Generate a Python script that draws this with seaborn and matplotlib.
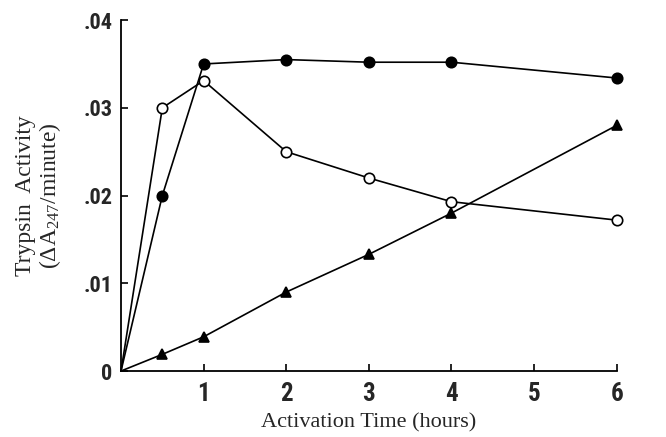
import numpy as np
import pandas as pd
import matplotlib
matplotlib.use("Agg")
import matplotlib.pyplot as plt
from matplotlib import font_manager
import seaborn as sns

# Activation time (hours) and trypsin activity for the three preparations
hours = [0, 0.5, 1, 2, 3, 4, 6]
filled_circle = [0.0, 0.0200, 0.0350, 0.0355, 0.0352, 0.0352, 0.0334]
open_circle = [0.0, 0.0300, 0.0331, 0.0250, 0.0220, 0.0193, 0.0172]
triangle = [0.0, 0.0019, 0.0039, 0.0090, 0.0133, 0.0180, 0.0280]

x_ticks = [1, 2, 3, 4, 5, 6]
y_ticks = [0, 0.01, 0.02, 0.03, 0.04]
y_tick_labels = ["0", ".01", ".02", ".03", ".04"]

sns.set_style("white")
plt.rcParams["font.family"] = ["Liberation Serif", "DejaVu Serif"]
plt.rcParams["mathtext.fontset"] = "custom"
plt.rcParams["mathtext.rm"] = "Liberation Serif"
plt.rcParams["mathtext.it"] = "Liberation Serif:italic"

# narrow bold face for the numerals, if one is available
names = {f.name for f in font_manager.fontManager.ttflist}
narrow = None
for cand in ["Liberation Sans Narrow", "DejaVu Sans Condensed", "Roboto Condensed"]:
    if cand in names:
        narrow = cand
        break
condensed_dejavu = any(f.name == "DejaVu Sans" and f.stretch == "condensed"
                       for f in font_manager.fontManager.ttflist)

fig = plt.figure(figsize=(6.66, 4.37), dpi=100)
ax = fig.add_axes([0.1817, 0.151, 0.7443, 0.803])

series = [
    (filled_circle, "o", "black"),
    (open_circle, "o", "white"),
    (triangle, "^", "black"),
]
for values, mk, face in series:
    df = pd.DataFrame({"hours": hours, "activity": values})
    sns.lineplot(data=df, x="hours", y="activity", ax=ax, color="black",
                 linewidth=1.2, marker=mk, markersize=7.5,
                 markerfacecolor=face, markeredgecolor="black",
                 markeredgewidth=1.2, markevery=slice(1, None),
                 clip_on=False, zorder=3)

ax.set_xlim(0, 6)
ax.set_ylim(0, 0.04)
ax.set_xticks(x_ticks)
ax.set_xticklabels([str(t) for t in x_ticks])
ax.set_yticks(y_ticks)
ax.set_yticklabels(y_tick_labels)

for side in ("top", "right"):
    ax.spines[side].set_visible(False)
for side in ("left", "bottom"):
    ax.spines[side].set_linewidth(1.3)
    ax.spines[side].set_color("black")

ax.tick_params(direction="in", length=5, width=1.2, color="black",
               left=True, bottom=True)
ax.tick_params(axis="x", pad=8)
ax.tick_params(axis="y", pad=6)

if narrow:
    fam, stretch = [narrow, "DejaVu Sans"], "normal"
elif condensed_dejavu:
    fam, stretch = ["DejaVu Sans"], "condensed"
else:
    fam, stretch = ["DejaVu Sans"], "normal"
for lab in ax.get_xticklabels():
    lab.set_fontfamily(fam)
    lab.set_fontstretch(stretch)
    lab.set_fontweight("bold")
    lab.set_fontsize(18)
for lab in ax.get_yticklabels():
    lab.set_fontfamily(fam)
    lab.set_fontstretch(stretch)
    lab.set_fontweight("bold")
    lab.set_fontsize(16)

ax.set_xlabel("Activation Time (hours)", fontsize=16, labelpad=5)
ax.set_ylabel("Trypsin  Activity\n($\\mathit{Δ}$A$_{247}$/minute)",
              fontsize=17, labelpad=15, linespacing=1.05)

fig.savefig("out.png", dpi=100)
